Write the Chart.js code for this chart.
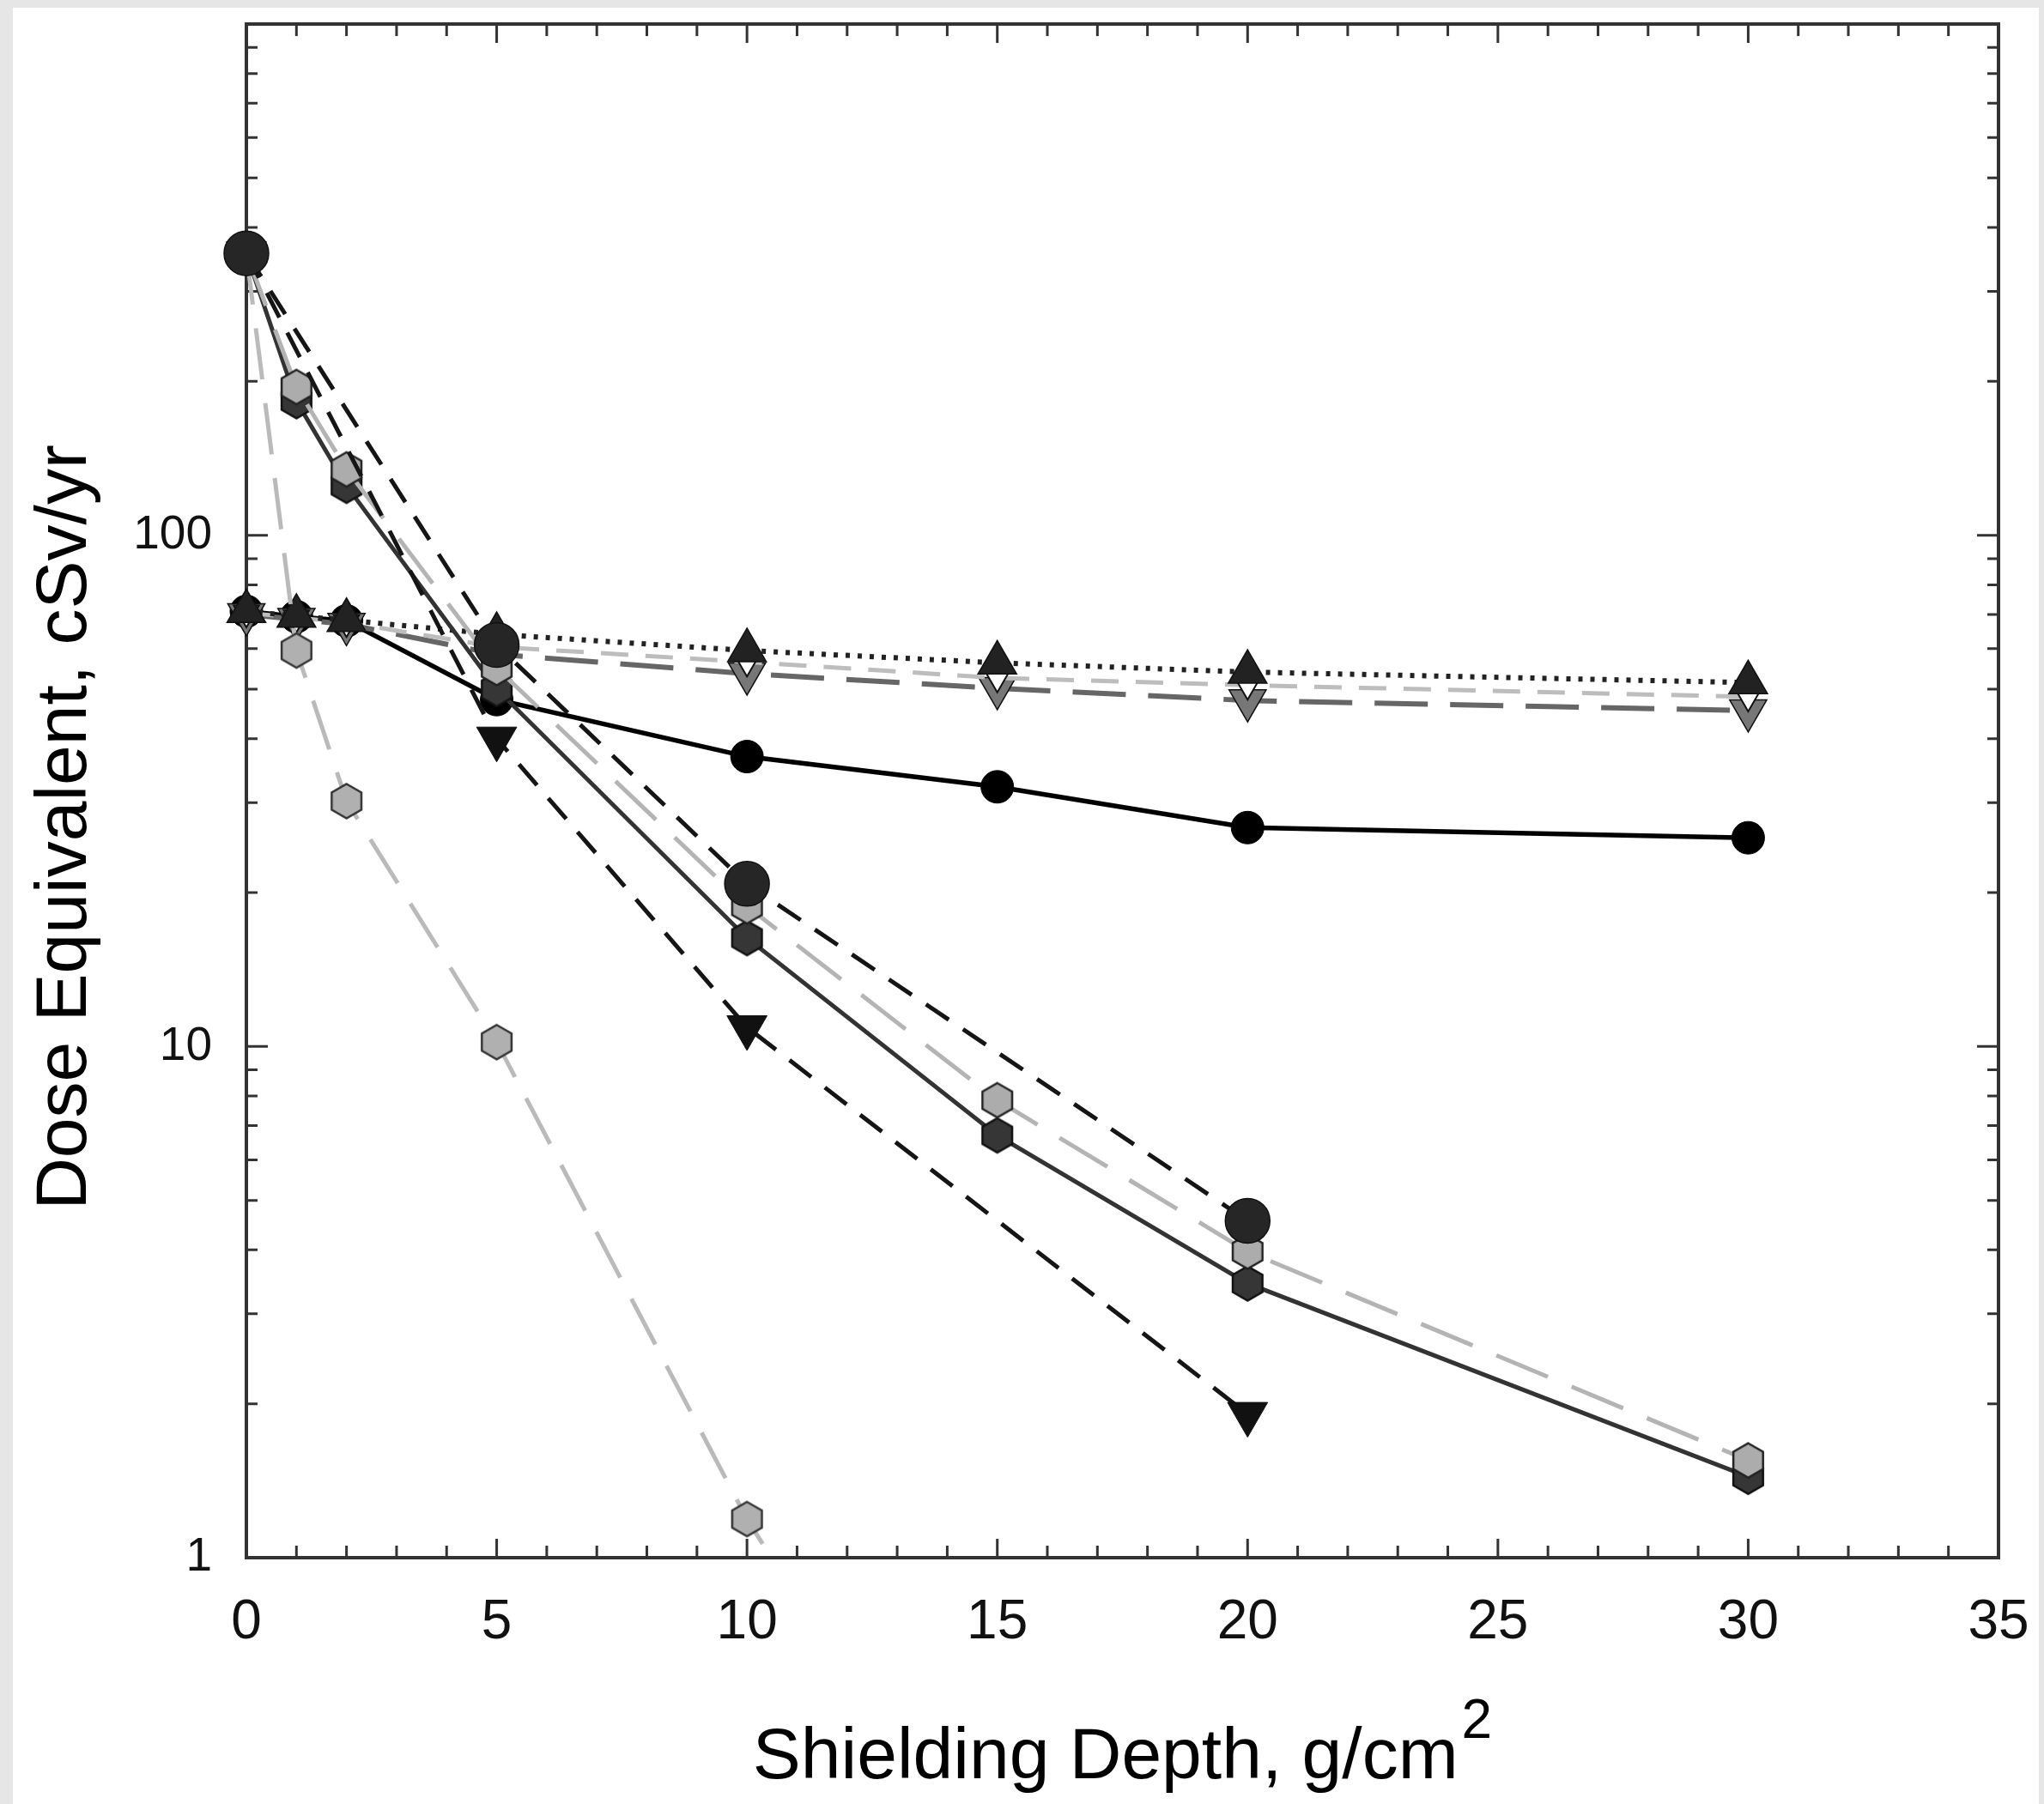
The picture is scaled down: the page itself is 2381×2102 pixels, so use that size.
<!DOCTYPE html>
<html>
<head>
<meta charset="utf-8">
<title>Dose Equivalent vs Shielding Depth</title>
<script src="https://cdn.jsdelivr.net/npm/chart.js@4.4.1/dist/chart.umd.min.js"></script>
<style>
  html, body { margin: 0; padding: 0; background: #e6e6e6; }
  #doseChart { display: block; }
</style>
</head>
<body>
<canvas id="doseChart" width="2381" height="2102"></canvas>
<script>
// shielding depths, g/cm2
const depthsFull = [0, 1, 2, 5, 10, 15, 20, 30];
const depthsSparse = [0, 5, 10, 20];
const depthsSteep = [0, 1, 2, 5, 10, 15];

// dose equivalent, cSv/yr
const solidCircles = [71, 69.3, 68, 47.7, 36.9, 32.2, 26.8, 25.6];
const dottedUpTri = [71, 69.5, 68.2, 64, 59.5, 56.3, 54, 51.5];
const lightDownTri = [70.5, 69, 67.5, 60.5, 56.5, 52.6, 50.9, 48.3];
const grayDownTri = [70, 68.5, 67, 58.5, 53.6, 50.2, 47.5, 45.4];
const lightHex = [356, 195, 134.5, 55, 18.8, 7.85, 3.97, 1.55];
const darkHex = [356, 183, 125, 50, 16.3, 6.7, 3.44, 1.44];
const bigCircles = [356, 61, 20.8, 4.56];
const blackDownTri = [356, 40, 10.9, 1.91];
const steepHex = [356, 59.5, 30.2, 10.2, 1.19, 0.2];

// tick positions and which of them carry a label
const xTickValues = Array.from({ length: 36 }, (_, i) => i);
const xTickLabels = [0, 5, 10, 15, 20, 25, 30, 35];
const yTickValues = [1, 10, 100].flatMap(d => [1, 2, 3, 4, 5, 6, 7, 8, 9].map(m => m * d)).concat([1000]);
const yTickLabels = [1, 10, 100];

const FONT = '"Liberation Sans", Arial, Helvetica, sans-serif';

function pts(xs, ys) {
  return xs.map((x, i) => ({ x: x, y: ys[i] }));
}

// hexagon marker (pointy top), drawn once on a small canvas
function hexMarker(r, fill, stroke) {
  const lw = 2.5;
  const s = Math.ceil(2 * r + 2 * lw);
  const c = document.createElement('canvas');
  c.width = s; c.height = s;
  const g = c.getContext('2d');
  g.beginPath();
  for (let i = 0; i < 6; i++) {
    const a = Math.PI / 3 * i - Math.PI / 2;
    const px = s / 2 + r * Math.cos(a), py = s / 2 + r * Math.sin(a);
    if (i === 0) g.moveTo(px, py); else g.lineTo(px, py);
  }
  g.closePath();
  g.fillStyle = fill; g.fill();
  g.lineWidth = lw; g.strokeStyle = stroke; g.stroke();
  return c;
}

const clipArea = { left: 40, right: 40, top: 40, bottom: 0 };

const datasets = [
  { // large circles, black dashes
    data: pts(depthsSparse, bigCircles),
    borderColor: '#151515', borderWidth: 5, borderDash: [32, 20],
    pointStyle: 'circle', pointRadius: 26, pointBackgroundColor: '#262626',
    pointBorderColor: '#111', pointBorderWidth: 1.5
  },
  { // black down triangles, black dashes
    data: pts(depthsSparse, blackDownTri),
    borderColor: '#151515', borderWidth: 5, borderDash: [32, 20],
    pointStyle: 'triangle', rotation: 180, pointRadius: 27,
    pointBackgroundColor: '#111', pointBorderColor: '#111', pointBorderWidth: 1
  },
  { // light gray hexagons, light gray long dashes
    data: pts(depthsFull, lightHex),
    borderColor: '#b4b4b4', borderWidth: 5, borderDash: [65, 30],
    pointStyle: hexMarker(20, '#acacac', '#222')
  },
  { // dark hexagons, solid dark gray line
    data: pts(depthsFull, darkHex),
    borderColor: '#333', borderWidth: 5,
    pointStyle: hexMarker(20, '#363636', '#111')
  },
  { // steep light gray hexagons
    data: pts(depthsSteep, steepHex),
    borderColor: '#bababa', borderWidth: 5, borderDash: [60, 28],
    pointStyle: hexMarker(20, '#b0b0b0', '#333')
  },
  { // up triangles, dotted black
    data: pts(depthsFull, dottedUpTri),
    borderColor: '#222', borderWidth: 6, borderDash: [5, 9],
    pointStyle: 'triangle', pointRadius: 26,
    pointBackgroundColor: '#222', pointBorderColor: '#111', pointBorderWidth: 1.5
  },
  { // open down triangles, light gray dashes
    data: pts(depthsFull, lightDownTri),
    borderColor: '#bdbdbd', borderWidth: 5, borderDash: [32, 20],
    pointStyle: 'triangle', rotation: 180, pointRadius: 17,
    pointBackgroundColor: '#fff', pointBorderColor: '#111', pointBorderWidth: 2
  },
  { // gray down triangles, gray long dashes
    data: pts(depthsFull, grayDownTri),
    borderColor: '#666', borderWidth: 6, borderDash: [62, 26],
    pointStyle: 'triangle', rotation: 180, pointRadius: 25,
    pointBackgroundColor: '#777', pointBorderColor: '#111', pointBorderWidth: 1.5
  },
  { // black circles, solid black
    data: pts(depthsFull, solidCircles),
    borderColor: '#000', borderWidth: 5.5,
    pointStyle: 'circle', pointRadius: 19,
    pointBackgroundColor: '#000', pointBorderColor: '#000', pointBorderWidth: 1
  }
];
datasets.forEach(d => { d.fill = false; d.tension = 0; d.clip = clipArea; });

// white sheet, inward ticks, box frame, axis titles
const frameTicks = {
  id: 'frameTicks',
  beforeDraw(chart) {
    const c = chart.ctx;
    c.save();
    c.fillStyle = '#fff';
    c.fillRect(15, 9, 2360, 2093);
    c.restore();
  },
  beforeDatasetsDraw(chart) {
    const { ctx, chartArea: a, scales: { x, y } } = chart;
    ctx.save();
    ctx.strokeStyle = '#333';
    ctx.lineWidth = 3;
    ctx.beginPath();
    xTickValues.forEach(v => {
      const px = x.getPixelForValue(v);
      const len = v % 5 === 0 ? 22 : 14;
      ctx.moveTo(px, a.bottom); ctx.lineTo(px, a.bottom - len);
      ctx.moveTo(px, a.top); ctx.lineTo(px, a.top + len);
    });
    yTickValues.forEach(v => {
      const py = y.getPixelForValue(v);
      const lg = Math.log10(v);
      const len = Math.abs(lg - Math.round(lg)) < 1e-9 ? 25 : 13;
      ctx.moveTo(a.left, py); ctx.lineTo(a.left + len, py);
      ctx.moveTo(a.right, py); ctx.lineTo(a.right - len, py);
    });
    ctx.stroke();
    ctx.lineWidth = 4;
    ctx.strokeRect(a.left, a.top, a.right - a.left, a.bottom - a.top);
    ctx.restore();
  },
  afterDraw(chart) {
    const { ctx, chartArea: a } = chart;
    ctx.save();
    ctx.fillStyle = '#000';
    // x title with superscript
    const main = 'Shielding Depth, g/cm';
    ctx.font = '84px ' + FONT;
    const wMain = ctx.measureText(main).width;
    ctx.font = '64px ' + FONT;
    const wSup = ctx.measureText('2').width;
    const x0 = (a.left + a.right) / 2 - (wMain + wSup + 4) / 2;
    ctx.textBaseline = 'alphabetic';
    ctx.textAlign = 'left';
    ctx.font = '84px ' + FONT;
    ctx.fillText(main, x0, 2072);
    ctx.font = '64px ' + FONT;
    ctx.fillText('2', x0 + wMain + 4, 2025);
    // y title
    ctx.translate(100, 964);
    ctx.rotate(-Math.PI / 2);
    ctx.textAlign = 'center';
    ctx.font = '84px ' + FONT;
    ctx.fillText('Dose Equivalent, cSv/yr', 0, 0);
    ctx.restore();
  }
};

const config = {
  type: 'line',
  data: { datasets: datasets },
  options: {
    responsive: false,
    animation: false,
    devicePixelRatio: 1,
    layout: { padding: { top: 20, right: 53, left: 0, bottom: 0 } },
    plugins: { legend: { display: false }, tooltip: { enabled: false } },
    scales: {
      x: {
        type: 'linear', min: 0, max: 35,
        grid: { display: false },
        border: { display: false },
        afterBuildTicks: s => { s.ticks = xTickLabels.map(v => ({ value: v })); },
        ticks: {
          autoSkip: false, maxRotation: 0, padding: 30,
          color: '#111', font: { family: FONT, size: 64 },
          callback: v => String(v)
        },
        afterFit: s => { s.height = 287; s.paddingLeft = 0; s.paddingRight = 0; }
      },
      y: {
        type: 'logarithmic', min: 1, max: 1000,
        grid: { display: false },
        border: { display: false },
        afterBuildTicks: s => { s.ticks = yTickLabels.map(v => ({ value: v })); },
        ticks: {
          autoSkip: false, padding: 32,
          color: '#111', font: { family: FONT, size: 55 },
          callback: v => String(v)
        },
        afterFit: s => { s.width = 287; s.paddingTop = 0; s.paddingBottom = 0; }
      }
    }
  },
  plugins: [frameTicks]
};

const doseChart = new Chart(document.getElementById('doseChart'), config);
</script>
</body>
</html>
